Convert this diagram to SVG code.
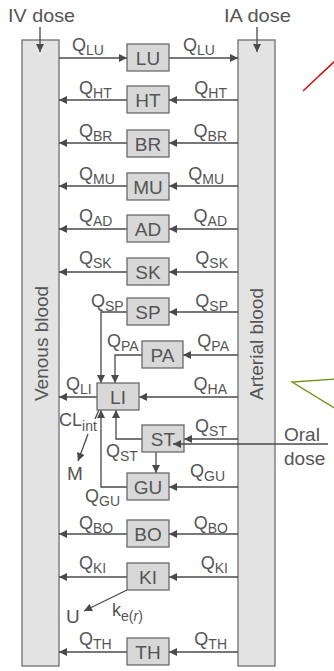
<svg xmlns="http://www.w3.org/2000/svg" width="334" height="671" viewBox="0 0 334 671">
<defs>
<marker id="ah" viewBox="0 0 10 10" refX="10" refY="5" markerWidth="9" markerHeight="8" markerUnits="userSpaceOnUse" orient="auto">
<path d="M0,0 L10,5 L0,10 z" fill="#4a4a4a"/>
</marker>
</defs>
<style>
text{font-family:"Liberation Sans",Arial,sans-serif;fill:#555;}
.col{fill:#e3e3e3;stroke:#707070;stroke-width:1.3;}
.box{fill:#d8d8d8;stroke:#6a6a6a;stroke-width:1.3;}
.nl{font-size:19px;text-anchor:middle;}
.q{font-size:18px;}
.s{font-size:14px;}
.e{text-anchor:end;}
.big{font-size:19px;}
.ct{font-size:19px;}
.c line,.c path,.c polyline{stroke:#4a4a4a;stroke-width:1.3;fill:none;}
.a{marker-end:url(#ah);}
</style>
<rect width="334" height="671" fill="#fff"/>
<g id="venous">
<rect class="col" x="22" y="40" width="37" height="626"/>
<text class="ct" transform="translate(48,401) rotate(-90)">Venous blood</text>
</g>
<g id="arterial">
<rect class="col" x="238" y="40" width="37" height="626"/>
<text class="ct" transform="translate(263,400) rotate(-90)">Arterial blood</text>
</g>
<text class="big" x="8" y="22" textLength="67" lengthAdjust="spacingAndGlyphs">IV dose</text>
<text class="big" x="224" y="22" textLength="67" lengthAdjust="spacingAndGlyphs">IA dose</text>
<text class="big" x="284" y="441">Oral</text>
<text class="big" x="284" y="465">dose</text>
<g class="c" id="connectors">
<line class="a" x1="40" y1="27" x2="40" y2="52"/>
<line class="a" x1="257" y1="27" x2="257" y2="52"/>
<line class="a" x1="59" y1="58" x2="127" y2="58"/>
<line class="a" x1="169" y1="58" x2="238" y2="58"/>
<line class="a" x1="238" y1="100" x2="169" y2="100"/>
<line class="a" x1="127" y1="100" x2="59" y2="100"/>
<line class="a" x1="238" y1="143" x2="169" y2="143"/>
<line class="a" x1="127" y1="143" x2="59" y2="143"/>
<line class="a" x1="238" y1="186" x2="169" y2="186"/>
<line class="a" x1="127" y1="186" x2="59" y2="186"/>
<line class="a" x1="238" y1="229" x2="169" y2="229"/>
<line class="a" x1="127" y1="229" x2="59" y2="229"/>
<line class="a" x1="238" y1="272" x2="169" y2="272"/>
<line class="a" x1="127" y1="272" x2="59" y2="272"/>
<line class="a" x1="238" y1="312" x2="169" y2="312"/>
<polyline class="a" points="127,312 101,312 101,383"/>
<line class="a" x1="238" y1="355" x2="183" y2="355"/>
<polyline class="a" points="142,355 115,355 115,383"/>
<line class="a" x1="238" y1="397" x2="139" y2="397"/>
<line class="a" x1="97" y1="397" x2="59" y2="397"/>
<line class="a" x1="238" y1="439" x2="184" y2="439"/>
<polyline class="a" points="142,439 116,439 116,410"/>
<line class="a" x1="156" y1="452" x2="156" y2="473"/>
<line class="a" x1="238" y1="487" x2="169" y2="487"/>
<polyline class="a" points="127,487 101,487 101,410"/>
<line x1="99" y1="410" x2="95" y2="419"/>
<line class="a" x1="88" y1="434" x2="78" y2="461"/>
<line class="a" x1="238" y1="534" x2="169" y2="534"/>
<line class="a" x1="127" y1="534" x2="59" y2="534"/>
<line class="a" x1="238" y1="577" x2="169" y2="577"/>
<line class="a" x1="127" y1="577" x2="59" y2="577"/>
<line class="a" x1="127" y1="590" x2="84" y2="611"/>
<line class="a" x1="238" y1="652" x2="169" y2="652"/>
<line class="a" x1="127" y1="652" x2="59" y2="652"/>
</g>
<g id="LU"><rect class="box" x="127" y="44" width="42" height="27"/><text class="nl" x="148" y="64.5">LU</text></g>
<g id="HT"><rect class="box" x="127" y="86" width="42" height="27"/><text class="nl" x="148" y="106.5">HT</text></g>
<g id="BR"><rect class="box" x="127" y="130" width="42" height="27"/><text class="nl" x="148" y="150.5">BR</text></g>
<g id="MU"><rect class="box" x="127" y="173" width="42" height="27"/><text class="nl" x="148" y="193.5">MU</text></g>
<g id="AD"><rect class="box" x="127" y="215" width="42" height="27"/><text class="nl" x="148" y="235.5">AD</text></g>
<g id="SK"><rect class="box" x="127" y="258" width="42" height="27"/><text class="nl" x="148" y="278.5">SK</text></g>
<g id="SP"><rect class="box" x="127" y="298" width="42" height="27"/><text class="nl" x="148" y="318.5">SP</text></g>
<g id="PA"><rect class="box" x="142" y="341" width="41" height="27"/><text class="nl" x="162.5" y="361.5">PA</text></g>
<g id="LI"><rect class="box" x="97" y="383" width="42" height="27"/><text class="nl" x="118" y="403.5">LI</text></g>
<g id="ST"><rect class="box" x="142" y="425" width="42" height="27"/><text class="nl" x="163" y="445.5">ST</text></g>
<g id="GU"><rect class="box" x="127" y="473" width="42" height="27"/><text class="nl" x="148" y="493.5">GU</text></g>
<g id="BO"><rect class="box" x="127" y="520" width="42" height="27"/><text class="nl" x="148" y="540.5">BO</text></g>
<g id="KI"><rect class="box" x="127" y="563" width="42" height="27"/><text class="nl" x="148" y="583.5">KI</text></g>
<g id="TH"><rect class="box" x="127" y="638" width="42" height="27"/><text class="nl" x="148" y="658.5">TH</text></g>
<g class="c" id="oral">
<line class="a" x1="328" y1="444" x2="173" y2="444"/>
</g>
<g id="labels">
<text class="q" x="72" y="51">Q<tspan class="s" dy="4">LU</tspan></text>
<text class="q" x="183" y="51">Q<tspan class="s" dy="4">LU</tspan></text>
<text class="q" x="79" y="94">Q<tspan class="s" dy="4">HT</tspan></text>
<text class="q e" x="227" y="94">Q<tspan class="s" dy="4">HT</tspan></text>
<text class="q" x="79" y="137">Q<tspan class="s" dy="4">BR</tspan></text>
<text class="q e" x="227" y="137">Q<tspan class="s" dy="4">BR</tspan></text>
<text class="q" x="79" y="180">Q<tspan class="s" dy="4">MU</tspan></text>
<text class="q e" x="224" y="180">Q<tspan class="s" dy="4">MU</tspan></text>
<text class="q" x="79" y="222">Q<tspan class="s" dy="4">AD</tspan></text>
<text class="q e" x="227" y="222">Q<tspan class="s" dy="4">AD</tspan></text>
<text class="q" x="79" y="264">Q<tspan class="s" dy="4">SK</tspan></text>
<text class="q e" x="228" y="264">Q<tspan class="s" dy="4">SK</tspan></text>
<text class="q" x="91" y="307">Q<tspan class="s" dy="4">SP</tspan></text>
<text class="q e" x="228" y="307">Q<tspan class="s" dy="4">SP</tspan></text>
<text class="q" x="107" y="347">Q<tspan class="s" dy="4">PA</tspan></text>
<text class="q e" x="229" y="347">Q<tspan class="s" dy="4">PA</tspan></text>
<text class="q" x="66" y="390">Q<tspan class="s" dy="4">LI</tspan></text>
<text class="q e" x="227" y="390">Q<tspan class="s" dy="4">HA</tspan></text>
<text class="q e" x="227" y="432">Q<tspan class="s" dy="4">ST</tspan></text>
<text class="q" x="106" y="457">Q<tspan class="s" dy="4">ST</tspan></text>
<text class="q" x="59" y="426">CL<tspan class="s" dy="5">int</tspan></text>
<text class="big" x="67" y="480">M</text>
<text class="q e" x="225" y="477">Q<tspan class="s" dy="4">GU</tspan></text>
<text class="q" x="85" y="502">Q<tspan class="s" dy="4">GU</tspan></text>
<text class="q" x="79" y="529">Q<tspan class="s" dy="4">BO</tspan></text>
<text class="q e" x="228" y="529">Q<tspan class="s" dy="4">BO</tspan></text>
<text class="q" x="79" y="569">Q<tspan class="s" dy="4">KI</tspan></text>
<text class="q e" x="228" y="569">Q<tspan class="s" dy="4">KI</tspan></text>
<text class="big" x="66" y="623">U</text>
<text class="q" x="112" y="616">k<tspan class="s" dy="5">e(<tspan font-style="italic">r</tspan>)</tspan></text>
<text class="q" x="79" y="645">Q<tspan class="s" dy="4">TH</tspan></text>
<text class="q e" x="227" y="645">Q<tspan class="s" dy="4">TH</tspan></text>
</g>
<g id="annotations">
<line x1="303" y1="91" x2="336" y2="60" stroke="#cc1111" stroke-width="1.5"/>
<polyline points="336,379 292,382 336,409" fill="none" stroke="#6f8f10" stroke-width="1.3"/>
</g>
</svg>
